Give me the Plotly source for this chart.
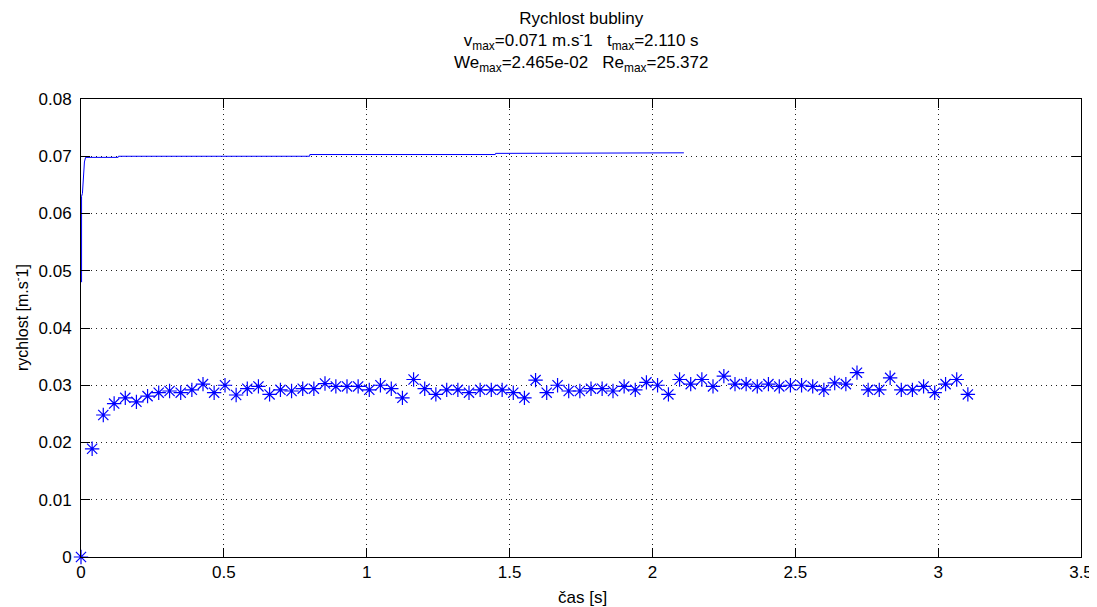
import plotly.graph_objects as go

# ---- data ----
marker_t = [0.000, 0.039, 0.078, 0.116, 0.155, 0.194, 0.233, 0.272, 0.310, 0.349,
            0.388, 0.427, 0.466, 0.504, 0.543, 0.582, 0.621, 0.660, 0.698, 0.737,
            0.776, 0.815, 0.854, 0.892, 0.931, 0.970, 1.009, 1.048, 1.086, 1.125,
            1.164, 1.203, 1.242, 1.280, 1.319, 1.358, 1.397, 1.436, 1.474, 1.513,
            1.552, 1.591, 1.630, 1.668, 1.707, 1.746, 1.785, 1.824, 1.862, 1.901,
            1.940, 1.979, 2.018, 2.056, 2.095, 2.134, 2.173, 2.212, 2.250, 2.289,
            2.328, 2.367, 2.406, 2.444, 2.483, 2.522, 2.561, 2.600, 2.638, 2.677,
            2.716, 2.755, 2.794, 2.832, 2.871, 2.910, 2.949, 2.988, 3.026, 3.065,
            3.104]
marker_v = [0.0000, 0.0189, 0.0248, 0.0268, 0.0278, 0.0271, 0.0281, 0.0287, 0.0290, 0.0287,
            0.0292, 0.0302, 0.0287, 0.0300, 0.0283, 0.0294, 0.0298, 0.0284, 0.0292, 0.0290,
            0.0294, 0.0294, 0.0303, 0.0298, 0.0298, 0.0298, 0.0292, 0.0300, 0.0294, 0.0278,
            0.0310, 0.0294, 0.0284, 0.0292, 0.0292, 0.0287, 0.0292, 0.0292, 0.0292, 0.0287,
            0.0278, 0.0309, 0.0287, 0.0300, 0.0290, 0.0290, 0.0294, 0.0294, 0.0290, 0.0298,
            0.0292, 0.0305, 0.0300, 0.0284, 0.0310, 0.0302, 0.0310, 0.0298, 0.0316, 0.0302,
            0.0302, 0.0298, 0.0302, 0.0298, 0.0300, 0.0300, 0.0298, 0.0292, 0.0304, 0.0302,
            0.0322, 0.0292, 0.0292, 0.0313, 0.0292, 0.0292, 0.0298, 0.0287, 0.0302, 0.0310,
            0.0284]

line_t = [0.002, 0.002, 0.005, 0.009, 0.012, 0.016, 0.130, 0.131, 0.800, 0.801, 1.450, 1.451, 2.110]
line_v = [0.0480, 0.0630, 0.0635, 0.0680, 0.0690, 0.0698, 0.0698, 0.0700, 0.0700, 0.0703, 0.0703, 0.0705, 0.0706]

x_ticks = [0, 0.5, 1, 1.5, 2, 2.5, 3, 3.5]
x_ticktext = ["0", "0.5", "1", "1.5", "2", "2.5", "3", "3.5"]
y_ticks = [0, 0.01, 0.02, 0.03, 0.04, 0.05, 0.06, 0.07, 0.08]
y_ticktext = ["0", "0.01", "0.02", "0.03", "0.04", "0.05", "0.06", "0.07", "0.08"]

title_lines = [
    "Rychlost bubliny",
    "v<sub>max</sub>=0.071 m.s<sup>-</sup>1&nbsp;&nbsp; t<sub>max</sub>=2.110 s",
    "We<sub>max</sub>=2.465e-02&nbsp;&nbsp; Re<sub>max</sub>=25.372",
]
x_label = "čas [s]"
y_label = "rychlost [m.s<sup>-</sup>1]"

FONT = "Liberation Sans, Arial, sans-serif"
BLUE = "#0000FF"

fig = go.Figure()
fig.add_trace(go.Scatter(x=line_t, y=line_v, mode="lines",
                         line=dict(color=BLUE, width=1), cliponaxis=False,
                         showlegend=False, hoverinfo="skip"))
fig.add_trace(go.Scatter(x=marker_t, y=marker_v, mode="markers",
                         marker=dict(symbol="asterisk-open", size=12, color=BLUE,
                                     line=dict(color=BLUE, width=1.2)),
                         cliponaxis=False, showlegend=False))

axis_common = dict(
    showline=True, linecolor="#000000", linewidth=1, mirror="allticks",
    ticks="inside", ticklen=9, tickcolor="#000000", tickwidth=1,
    showgrid=True, gridcolor="#222222", griddash="1px,4px", gridwidth=1,
    zeroline=False, automargin=False, ticklabeloverflow="allow",
    tickfont=dict(family=FONT, size=17, color="#000000"),
)

fig.update_xaxes(range=[0, 3.5], tickvals=x_ticks, ticktext=x_ticktext, **axis_common)
fig.update_yaxes(range=[0, 0.08], tickvals=y_ticks, ticktext=y_ticktext,
                 ticklabelstandoff=5, **axis_common)

# page body has an 8px margin; lay out in screen pixels and compensate
OX, OY = 8, 8
W, H = 1097 - OX, 607 - OY
L, T = 81 - OX, 99 - OY
R = W - (1081 - OX)
B = H - (557 - OY)
pw, ph = W - L - R, H - T - B

def px(xs):
    return (xs - OX - L) / pw

def py(ys):
    return 1 - (ys - OY - T) / ph

ann = []
ann.append(dict(text="<br>".join(title_lines), x=px(581), y=py(8), yanchor="top", size=17))
ann.append(dict(text=x_label, x=px(582), y=py(597), yanchor="middle", size=17))
ann.append(dict(text=y_label, x=px(21), y=py(318), yanchor="middle", size=16, textangle=-90))
annotations = []
for a in ann:
    size = a.pop("size")
    a.update(xref="paper", yref="paper", showarrow=False, xanchor="center",
             borderpad=0, font=dict(family=FONT, size=size, color="#000000"))
    annotations.append(a)

fig.update_layout(
    width=W, height=H,
    margin=dict(l=L, r=R, t=T, b=B, pad=0, autoexpand=False),
    paper_bgcolor="#FFFFFF", plot_bgcolor="#FFFFFF",
    annotations=annotations,
    font=dict(family=FONT, size=17, color="#000000"),
)

fig.write_html("out.html")
